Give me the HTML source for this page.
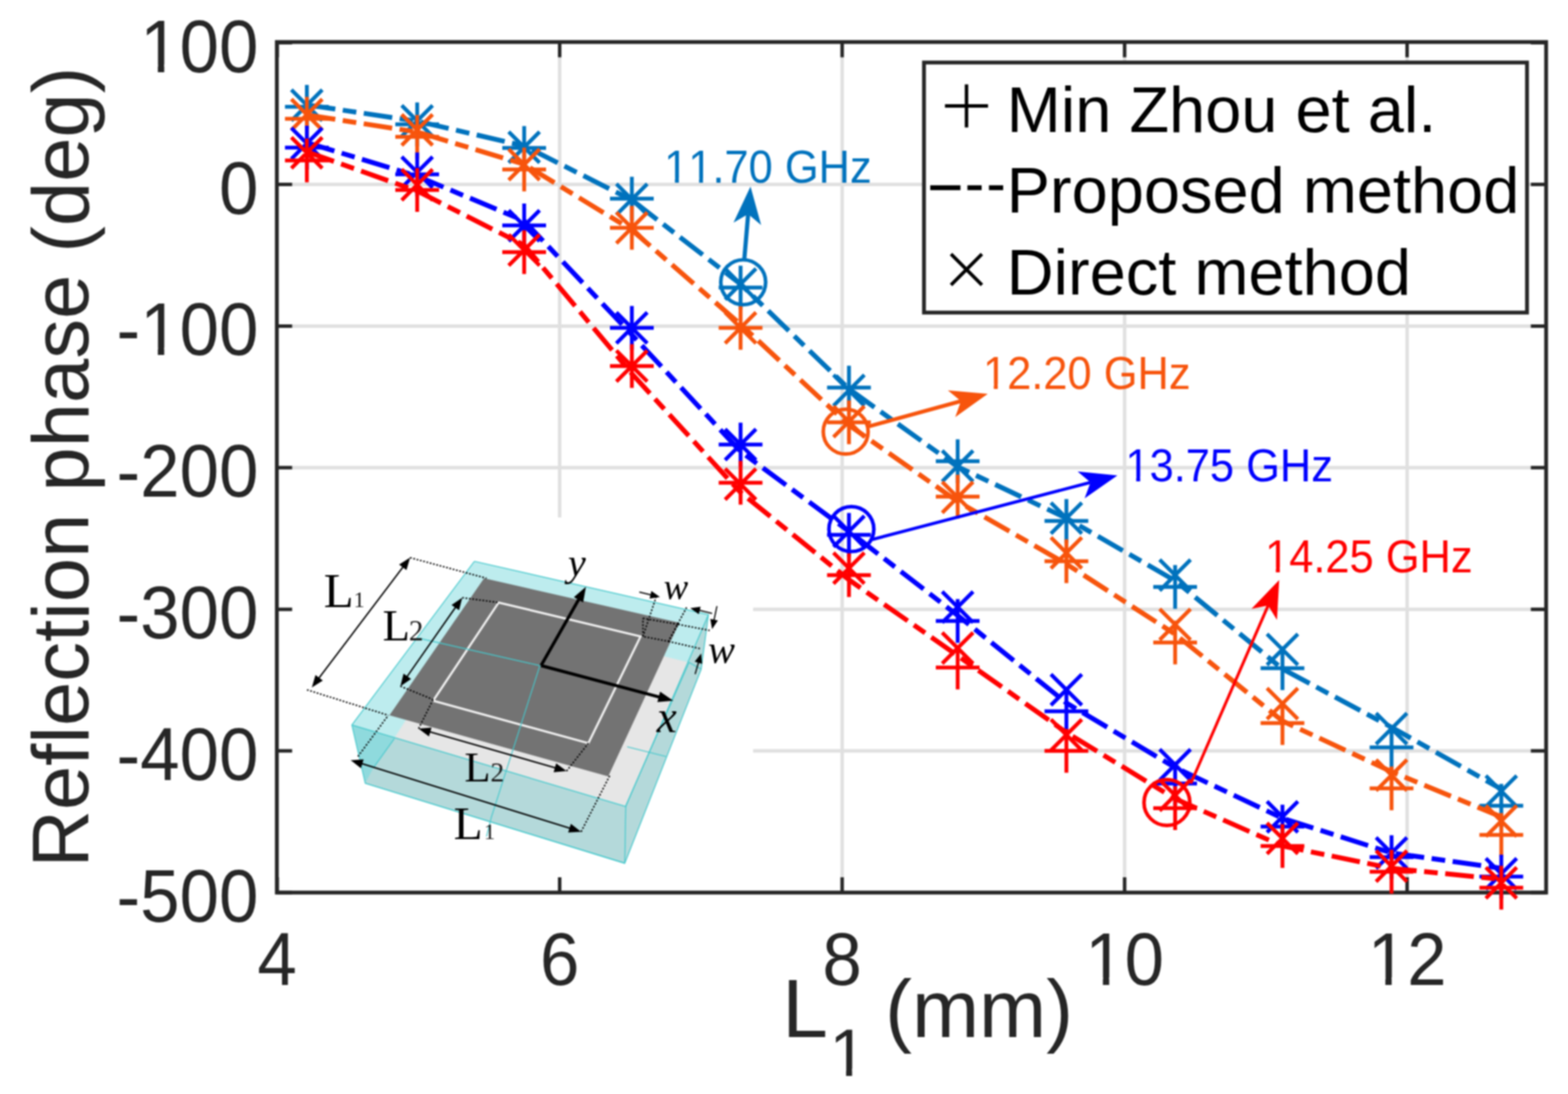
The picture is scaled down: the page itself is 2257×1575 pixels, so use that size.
<!DOCTYPE html>
<html><head><meta charset="utf-8"><title>Reflection phase vs L1</title>
<style>html,body{margin:0;padding:0;background:#fff;overflow:hidden}svg{display:block;filter:blur(0.8px)}text{font-kerning:none}</style>
</head><body>
<svg width="2257" height="1575" viewBox="0 0 2257 1575">
<defs><clipPath id="c0"><path clip-rule="evenodd" d="M-5000 -5000H9000V9000H-5000ZM207 88.3H227.2V101.7H207ZM236.4 88.3H255.9V101.7H236.4Z"/></clipPath><clipPath id="c1"><path clip-rule="evenodd" d="M-5000 -5000H9000V9000H-5000ZM207 476.6H227.2V490.1H207ZM236.4 476.6H255.9V490.1H236.4Z"/></clipPath><clipPath id="c2"><path clip-rule="evenodd" d="M-5000 -5000H9000V9000H-5000ZM1567.2 1340.1H1587.5V1353.5H1567.2ZM1596.6 1340.1H1616.1V1353.5H1596.6Z"/></clipPath><clipPath id="c3"><path clip-rule="evenodd" d="M-5000 -5000H9000V9000H-5000ZM1973.8 1340.1H1994.1V1353.5H1973.8ZM2003.2 1340.1H2022.7V1353.5H2003.2Z"/></clipPath><clipPath id="c4"><path clip-rule="evenodd" d="M-5000 -5000H9000V9000H-5000ZM1198.8 1538.7H1217.9V1551.4H1198.8ZM1226.5 1538.7H1244.9V1551.4H1226.5Z"/></clipPath><clipPath id="c5"><path clip-rule="evenodd" d="M-5000 -5000H9000V9000H-5000ZM959.1 242H971.5V250.3H959.1ZM977.2 242H989.1V250.3H977.2ZM993.9 242H1006.3V250.3H993.9ZM1011.9 242H1023.9V250.3H1011.9Z"/></clipPath><clipPath id="c6"><path clip-rule="evenodd" d="M-5000 -5000H9000V9000H-5000ZM1418.1 521.7H1430.5V530H1418.1ZM1436.2 521.7H1448.1V530H1436.2Z"/></clipPath><clipPath id="c7"><path clip-rule="evenodd" d="M-5000 -5000H9000V9000H-5000ZM1623.1 647.4H1635.5V655.6H1623.1ZM1641.2 647.4H1653.1V655.6H1641.2Z"/></clipPath><clipPath id="c8"><path clip-rule="evenodd" d="M-5000 -5000H9000V9000H-5000ZM1824.1 770.6H1836.5V778.9H1824.1ZM1842.2 770.6H1854.1V778.9H1842.2Z"/></clipPath></defs>
<rect x="0" y="0" width="2257" height="1575" fill="#fff"/>
<path d="M805.6 60.5V1285.0M1212.2 60.5V1285.0M1618.8 60.5V1285.0M2025.4 60.5V1285.0M398.5 265.5H2225.5M398.5 469.4H2225.5M398.5 673.3H2225.5M398.5 877.2H2225.5M398.5 1081.1H2225.5" stroke="#e0e0e0" stroke-width="5" fill="none"/>
<rect x="401" y="745" width="683" height="537" fill="#fff"/>
<g transform="translate(400 740) scale(0.34916)">
<polygon points="810,195 1775,415 1745,640 1430,1440 360,1110 305,870" fill="#b4d9da"/>
<polygon points="305,870 480,926 395,1045 360,1110" fill="#8fdadd"/>
<polygon points="810,195 1775,415 1434,1206 305,870" fill="#bdecee"/>
<polygon points="1695,612 1745,640 1430,1440 1434,1206" fill="#b4d9da"/>
<polygon points="480,924 1434,1203 1695,612 1585,585 540,830" fill="#e6e6e6"/>
<polygon points="850,265 1655,448 1362,1082 460,830" fill="#737373"/>
<polygon points="910,365 1495,505 1280,945 640,770" fill="none" stroke="#f2f2f2" stroke-width="9"/>
<polyline points="810,195 1775,415 1745,640 1430,1440 360,1110 305,870 810,195" fill="none" stroke="#46c8cc" stroke-width="4"/>
<polyline points="305,870 1434,1206 1775,415" fill="none" stroke="#46c8cc" stroke-width="4"/>
<polyline points="1434,1206 1430,1440" fill="none" stroke="#46c8cc" stroke-width="4"/>
<polyline points="1434,1203 1695,612 1745,640" fill="none" stroke="#46c8cc" stroke-width="4"/>
<polyline points="480,926 395,1045" fill="none" stroke="#46c8cc" stroke-width="4"/>
<polyline points="580,512 1080,625" fill="none" stroke="#46c8cc" stroke-width="4"/>
<polyline points="1080,625 880,1250 860,1330" fill="none" stroke="#46c8cc" stroke-width="4"/>
<polyline points="1440,960 1600,1000" fill="none" stroke="#46c8cc" stroke-width="4"/>
<polyline points="360,1110 1430,1440" fill="none" stroke="#46c8cc" stroke-width="4"/>
<polyline points="545,180 860,265" fill="none" stroke="#000" stroke-width="6" stroke-dasharray="7 7"/>
<polyline points="120,725 455,830" fill="none" stroke="#000" stroke-width="6" stroke-dasharray="7 7"/>
<polyline points="760,345 910,365" fill="none" stroke="#000" stroke-width="6" stroke-dasharray="7 7"/>
<polyline points="505,710 640,765" fill="none" stroke="#000" stroke-width="6" stroke-dasharray="7 7"/>
<polyline points="580,885 640,765" fill="none" stroke="#000" stroke-width="6" stroke-dasharray="7 7"/>
<polyline points="1190,1060 1280,945" fill="none" stroke="#000" stroke-width="6" stroke-dasharray="7 7"/>
<polyline points="330,1000 455,830" fill="none" stroke="#000" stroke-width="6" stroke-dasharray="7 7"/>
<polyline points="1250,1310 1370,1075" fill="none" stroke="#000" stroke-width="6" stroke-dasharray="7 7"/>
<polyline points="1505,430 1650,455 1610,525 1505,505 1505,430" fill="none" stroke="#000" stroke-width="6" stroke-dasharray="7 7"/>
<polyline points="1560,340 1505,505" fill="none" stroke="#000" stroke-width="6" stroke-dasharray="7 7"/>
<polyline points="1685,385 1610,525" fill="none" stroke="#000" stroke-width="6" stroke-dasharray="7 7"/>
<polyline points="1650,455 1780,480" fill="none" stroke="#000" stroke-width="6" stroke-dasharray="7 7"/>
<polyline points="1610,525 1740,555" fill="none" stroke="#000" stroke-width="6" stroke-dasharray="7 7"/>
<line x1="517.8" y1="215.9" x2="167.2" y2="679.1" stroke="#000" stroke-width="6"/><polygon points="140.0,715.0 155.0,663.7 185.3,686.6" fill="#000"/><polygon points="545.0,180.0 499.7,208.4 530.0,231.3" fill="#000"/>
<line x1="734.2" y1="381.9" x2="530.8" y2="673.1" stroke="#000" stroke-width="6"/><polygon points="505.0,710.0 518.1,658.1 549.2,679.9" fill="#000"/><polygon points="760.0,345.0 715.8,375.1 746.9,396.9" fill="#000"/>
<line x1="623.3" y1="897.4" x2="1146.7" y2="1047.6" stroke="#000" stroke-width="6"/><polygon points="1190.0,1060.0 1136.7,1064.5 1147.2,1027.9" fill="#000"/><polygon points="580.0,885.0 622.8,917.1 633.3,880.5" fill="#000"/>
<line x1="343.0" y1="1028.3" x2="1207.0" y2="1296.7" stroke="#000" stroke-width="6"/><polygon points="1250.0,1310.0 1196.6,1313.3 1207.9,1277.0" fill="#000"/><polygon points="300.0,1015.0 342.1,1048.0 353.4,1011.7" fill="#000"/>
<line x1="1085.0" y1="625.0" x2="1242.4" y2="348.5" stroke="#000" stroke-width="13"/><polygon points="1270.0,300.0 1258.4,364.8 1220.2,343.0" fill="#000"/>
<line x1="1085.0" y1="625.0" x2="1576.1" y2="755.7" stroke="#000" stroke-width="13"/><polygon points="1630.0,770.0 1564.4,775.3 1575.7,732.8" fill="#000"/>
<line x1="1490.0" y1="322.0" x2="1540.0" y2="333.8" stroke="#000" stroke-width="5"/><polygon points="1575.0,342.0 1532.4,348.4 1539.7,317.3" fill="#000"/>
<line x1="1790.0" y1="410.0" x2="1735.0" y2="396.5" stroke="#000" stroke-width="5"/><polygon points="1700.0,388.0 1742.7,382.0 1735.1,413.0" fill="#000"/>
<line x1="1810.0" y1="380.0" x2="1797.4" y2="439.8" stroke="#000" stroke-width="5"/><polygon points="1790.0,475.0 1782.6,432.6 1813.9,439.2" fill="#000"/>
<line x1="1720.0" y1="660.0" x2="1734.8" y2="609.5" stroke="#000" stroke-width="5"/><polygon points="1745.0,575.0 1749.1,617.9 1718.4,608.9" fill="#000"/>
</g>
<text x="466.1" y="874.2" font-family="Liberation Serif, Times New Roman, serif" font-size="70.5" fill="#000">L</text><text x="509.1" y="874.2" font-family="Liberation Serif, Times New Roman, serif" font-size="32" fill="#1a1a1a">1</text>
<text x="550.7" y="922.2" font-family="Liberation Serif, Times New Roman, serif" font-size="64.3" fill="#000">L</text><text x="588.5" y="922.2" font-family="Liberation Serif, Times New Roman, serif" font-size="42" fill="#1a1a1a">2</text>
<text x="668.4" y="1125.3" font-family="Liberation Serif, Times New Roman, serif" font-size="61.5" fill="#000">L</text><text x="706.0" y="1125.3" font-family="Liberation Serif, Times New Roman, serif" font-size="39.5" fill="#1a1a1a">2</text>
<text x="653.1" y="1208" font-family="Liberation Serif, Times New Roman, serif" font-size="68.3" fill="#000">L</text><text x="696.8" y="1208" font-family="Liberation Serif, Times New Roman, serif" font-size="32" fill="#1a1a1a">1</text>
<text x="817.6" y="828.8" font-family="Liberation Serif, Times New Roman, serif" font-size="58" font-style="italic" fill="#000">y</text>
<text x="945.3" y="1054" font-family="Liberation Serif, Times New Roman, serif" font-size="65" font-style="italic" fill="#000">x</text>
<text x="955.3" y="861.5" font-family="Liberation Serif, Times New Roman, serif" font-size="53" font-style="italic" fill="#000">w</text>
<text x="1019.3" y="954" font-family="Liberation Serif, Times New Roman, serif" font-size="58" font-style="italic" fill="#000">w</text>
<path d="M399 1285.0v-22M399 60.5v22M805.6 1285.0v-22M805.6 60.5v22M1212.2 1285.0v-22M1212.2 60.5v22M1618.8 1285.0v-22M1618.8 60.5v22M2025.4 1285.0v-22M2025.4 60.5v22M398.5 61.6h22M2225.5 61.6h-22M398.5 265.5h22M2225.5 265.5h-22M398.5 469.4h22M2225.5 469.4h-22M398.5 673.3h22M2225.5 673.3h-22M398.5 877.2h22M2225.5 877.2h-22M398.5 1081.1h22M2225.5 1081.1h-22M398.5 1285h22M2225.5 1285h-22" stroke="#262626" stroke-width="5" fill="none"/>
<rect x="398.5" y="60.5" width="1827.0" height="1224.5" stroke="#262626" stroke-width="5.5" fill="none"/>
<g transform="scale(1 1.05)" font-family="Liberation Sans, Arial, sans-serif" font-size="102" fill="#262626"><text x="372" y="98.7" text-anchor="end" clip-path="url(#c0)">100</text><text x="372" y="292.9" text-anchor="end">0</text><text x="372" y="487" text-anchor="end" clip-path="url(#c1)">-100</text><text x="372" y="681.2" text-anchor="end">-200</text><text x="372" y="875.4" text-anchor="end">-300</text><text x="372" y="1069.6" text-anchor="end">-400</text><text x="372" y="1263.8" text-anchor="end">-500</text><text x="399" y="1350.5" text-anchor="middle">4</text><text x="805.6" y="1350.5" text-anchor="middle">6</text><text x="1212.2" y="1350.5" text-anchor="middle">8</text><text x="1618.8" y="1350.5" text-anchor="middle" clip-path="url(#c2)">10</text><text x="2025.4" y="1350.5" text-anchor="middle" clip-path="url(#c3)">12</text></g>
<text transform="translate(126.5 672.6) rotate(-90)" text-anchor="middle" font-family="Liberation Sans, Arial, sans-serif" font-size="114.6" fill="#262626">Reflection phase (deg)</text>
<g font-family="Liberation Sans, Arial, sans-serif" fill="#262626"><text x="1126" y="1492.5" font-size="118">L</text><text x="1194" y="1548.5" font-size="96" clip-path="url(#c4)">1</text><text x="1274" y="1492.5" font-size="116">(mm)</text></g>
<polyline points="441.7,151 600.5,174.5 754.5,210 909.5,288 1066,409 1222,560 1378.5,672 1535,746 1691.5,836 1846,963 2003,1047 2161,1136" fill="none" stroke="#0072bd" stroke-width="7" stroke-dasharray="41.4 10.85 19.7 10.85"/>
<path d="M410.2 153.7h63M441.7 122.2v63M569 179h63M600.5 147.5v63M723 213h63M754.5 181.5v63M878 286h63M909.5 254.5v63M1034.5 414h63M1066 382.5v63M1190.5 558h63M1222 526.5v63M1347 664h63M1378.5 632.5v63M1503.5 750h63M1535 718.5v63M1660 845h63M1691.5 813.5v63M1814.5 962h63M1846 930.5v63M1971.5 1076h63M2003 1044.5v63M2129.5 1160h63M2161 1128.5v63M419.4 129.2l44.5 44.5M419.4 173.8l44.5 -44.5M578.2 151.7l44.5 44.5M578.2 196.3l44.5 -44.5M732.2 189.7l44.5 44.5M732.2 234.3l44.5 -44.5M887.2 264.7l44.5 44.5M887.2 309.3l44.5 -44.5M1043.7 386.7l44.5 44.5M1043.7 431.3l44.5 -44.5M1199.7 539.7l44.5 44.5M1199.7 584.3l44.5 -44.5M1356.2 648.7l44.5 44.5M1356.2 693.3l44.5 -44.5M1512.7 723.7l44.5 44.5M1512.7 768.3l44.5 -44.5M1669.2 805.7l44.5 44.5M1669.2 850.3l44.5 -44.5M1823.7 912.7l44.5 44.5M1823.7 957.3l44.5 -44.5M1980.7 1026.7l44.5 44.5M1980.7 1071.3l44.5 -44.5M2138.7 1116.7l44.5 44.5M2138.7 1161.3l44.5 -44.5" fill="none" stroke="#0072bd" stroke-width="5.5"/>
<polyline points="441.7,165.5 600.5,190 754.5,236.5 909.5,331 1066,467 1222,612 1378.5,722 1535,812 1691.5,913 1846,1038 2003,1111 2161,1176" fill="none" stroke="#f7540c" stroke-width="7" stroke-dasharray="41.4 10.85 19.7 10.85"/>
<path d="M410.2 171h63M441.7 139.5v63M569 197h63M600.5 165.5v63M723 244h63M754.5 212.5v63M878 328h63M909.5 296.5v63M1034.5 472h63M1066 440.5v63M1190.5 608h63M1222 576.5v63M1347 715h63M1378.5 683.5v63M1503.5 808h63M1535 776.5v63M1660 925h63M1691.5 893.5v63M1814.5 1041h63M1846 1009.5v63M1971.5 1135h63M2003 1103.5v63M2129.5 1202h63M2161 1170.5v63M419.4 142.7l44.5 44.5M419.4 187.3l44.5 -44.5M578.2 164.7l44.5 44.5M578.2 209.3l44.5 -44.5M732.2 214.7l44.5 44.5M732.2 259.3l44.5 -44.5M887.2 305.7l44.5 44.5M887.2 350.3l44.5 -44.5M1043.7 449.7l44.5 44.5M1043.7 494.3l44.5 -44.5M1199.7 584.7l44.5 44.5M1199.7 629.3l44.5 -44.5M1356.2 693.7l44.5 44.5M1356.2 738.3l44.5 -44.5M1512.7 773.7l44.5 44.5M1512.7 818.3l44.5 -44.5M1669.2 876.7l44.5 44.5M1669.2 921.3l44.5 -44.5M1823.7 990.7l44.5 44.5M1823.7 1035.3l44.5 -44.5M1980.7 1093.7l44.5 44.5M1980.7 1138.3l44.5 -44.5M2138.7 1159.7l44.5 44.5M2138.7 1204.3l44.5 -44.5" fill="none" stroke="#f7540c" stroke-width="5.5"/>
<polyline points="441.7,205.3 600.5,253.5 754.5,318 909.5,482 1066,650 1222,765 1378.5,886 1535,1012 1691.5,1105 1846,1178 2003,1228 2161,1250" fill="none" stroke="#0000ff" stroke-width="7" stroke-dasharray="41.4 10.85 19.7 10.85"/>
<path d="M410.2 212.6h63M441.7 181.1v63M569 251h63M600.5 219.5v63M723 324.5h63M754.5 293v63M878 472h63M909.5 440.5v63M1034.5 640h63M1066 608.5v63M1190.5 770h63M1222 738.5v63M1347 894h63M1378.5 862.5v63M1503.5 1024h63M1535 992.5v63M1660 1128h63M1691.5 1096.5v63M1814.5 1190h63M1846 1158.5v63M1971.5 1234h63M2003 1202.5v63M2129.5 1262h63M2161 1230.5v63M419.4 184.2l44.5 44.5M419.4 228.8l44.5 -44.5M578.2 225.7l44.5 44.5M578.2 270.3l44.5 -44.5M732.2 302.7l44.5 44.5M732.2 347.3l44.5 -44.5M887.2 449.7l44.5 44.5M887.2 494.3l44.5 -44.5M1043.7 617.7l44.5 44.5M1043.7 662.3l44.5 -44.5M1199.7 742.7l44.5 44.5M1199.7 787.3l44.5 -44.5M1356.2 851.7l44.5 44.5M1356.2 896.3l44.5 -44.5M1512.7 970.7l44.5 44.5M1512.7 1015.3l44.5 -44.5M1669.2 1078.7l44.5 44.5M1669.2 1123.3l44.5 -44.5M1823.7 1153.7l44.5 44.5M1823.7 1198.3l44.5 -44.5M1980.7 1205.7l44.5 44.5M1980.7 1250.3l44.5 -44.5M2138.7 1235.7l44.5 44.5M2138.7 1280.3l44.5 -44.5" fill="none" stroke="#0000ff" stroke-width="5.5"/>
<polyline points="441.7,218.5 600.5,275 754.5,353 909.5,538 1066,709 1222,834.7 1378.5,944 1535,1054.6 1691.5,1150 1846,1218 2003,1250 2161,1266" fill="none" stroke="#ff0000" stroke-width="7" stroke-dasharray="41.4 10.85 19.7 10.85"/>
<path d="M410.2 231h63M441.7 199.5v63M569 273.5h63M600.5 242v63M723 363h63M754.5 331.5v63M878 527h63M909.5 495.5v63M1034.5 695h63M1066 663.5v63M1190.5 828h63M1222 796.5v63M1347 961h63M1378.5 929.5v63M1503.5 1081h63M1535 1049.5v63M1660 1163.5h63M1691.5 1132v63M1814.5 1218h63M1846 1186.5v63M1971.5 1255h63M2003 1223.5v63M2129.5 1278h63M2161 1246.5v63M419.4 197.7l44.5 44.5M419.4 242.3l44.5 -44.5M578.2 243.7l44.5 44.5M578.2 288.3l44.5 -44.5M732.2 337.7l44.5 44.5M732.2 382.3l44.5 -44.5M887.2 504.7l44.5 44.5M887.2 549.3l44.5 -44.5M1043.7 674.7l44.5 44.5M1043.7 719.3l44.5 -44.5M1199.7 795.7l44.5 44.5M1199.7 840.3l44.5 -44.5M1356.2 910.7l44.5 44.5M1356.2 955.3l44.5 -44.5M1512.7 1035.7l44.5 44.5M1512.7 1080.3l44.5 -44.5M1669.2 1122.7l44.5 44.5M1669.2 1167.3l44.5 -44.5M1823.7 1184.7l44.5 44.5M1823.7 1229.3l44.5 -44.5M1980.7 1224.7l44.5 44.5M1980.7 1269.3l44.5 -44.5M2138.7 1248.7l44.5 44.5M2138.7 1293.3l44.5 -44.5" fill="none" stroke="#ff0000" stroke-width="5.5"/>
<circle cx="1069.8" cy="406.3" r="32.3" fill="none" stroke="#0072bd" stroke-width="5.2"/>
<path d="M1071.3 374L1076.9 308.3" stroke="#0072bd" stroke-width="6" fill="none"/><path d="M1080.3 268.4L1095.6 323.9L1076.9 308.3L1055.8 320.5Z" fill="#0072bd"/>
<circle cx="1217.3" cy="621.4" r="32.3" fill="none" stroke="#f7540c" stroke-width="5.2"/>
<path d="M1250.6 613.8L1383.2 577.5" stroke="#f7540c" stroke-width="5.5" fill="none"/><path d="M1421.8 567L1375 600.5L1383.2 577.5L1364.4 561.9Z" fill="#f7540c"/>
<circle cx="1225.5" cy="761.7" r="32.3" fill="none" stroke="#0000ff" stroke-width="5.2"/>
<path d="M1255.3 776.7L1569.7 694.5" stroke="#0000ff" stroke-width="4.5" fill="none"/><path d="M1608.4 684.4L1561.2 717.4L1569.7 694.5L1551.1 678.7Z" fill="#0000ff"/>
<circle cx="1679.7" cy="1155.4" r="33" fill="none" stroke="#ff0000" stroke-width="5.2"/>
<path d="M1714 1128L1825.4 871.7" stroke="#ff0000" stroke-width="4.2" fill="none"/><path d="M1841.3 835L1838.1 892.5L1825.4 871.7L1801.4 876.6Z" fill="#ff0000"/>
<g font-family="Liberation Sans, Arial, sans-serif" font-size="62.5" transform="scale(1 1.06)"><text x="956" y="248.4" clip-path="url(#c5)" fill="#0072bd">11.70 GHz</text><text x="1415" y="528.1" clip-path="url(#c6)" fill="#f7540c">12.20 GHz</text><text x="1620" y="653.8" clip-path="url(#c7)" fill="#0000ff">13.75 GHz</text><text x="1821" y="777" clip-path="url(#c8)" fill="#ff0000">14.25 GHz</text></g>
<rect x="1330" y="90" width="868" height="360" fill="#fff" stroke="#262626" stroke-width="5.5"/>
<path d="M1360.2 152.5h62M1391.2 121.5v62M1368.9 365.7l44.5 44.5M1368.9 410.3l44.5 -44.5" stroke="#000" stroke-width="5" fill="none"/>
<path d="M1339 270.3H1444" stroke="#000" stroke-width="7" stroke-dasharray="43.5 10 20.5 10.5" fill="none"/>
<g font-family="Liberation Sans, Arial, sans-serif" font-size="93.5" fill="#000"><text x="1449" y="190">Min Zhou et al.</text><text x="1449" y="306">Proposed method</text><text x="1449" y="424">Direct method</text></g>
</svg>
</body></html>
